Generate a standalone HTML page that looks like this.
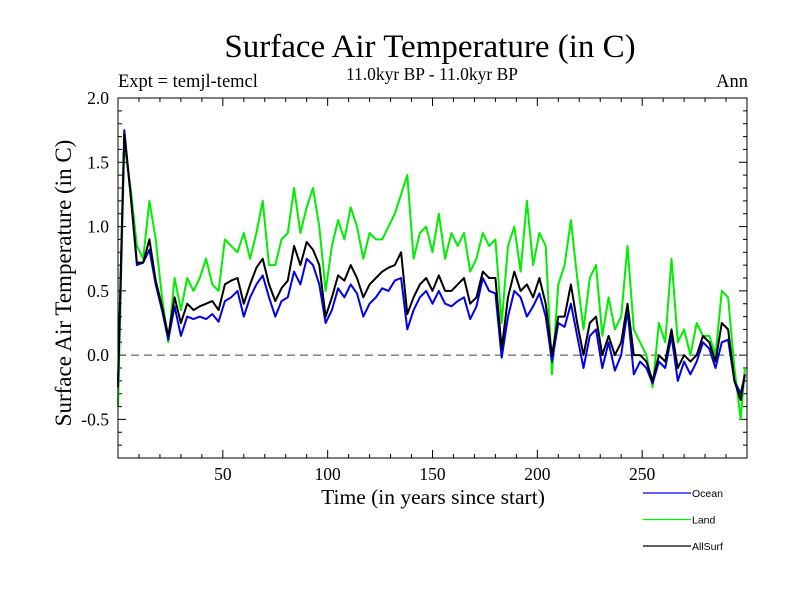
<!DOCTYPE html>
<html><head><meta charset="utf-8"><style>
body{margin:0;background:#fff;width:800px;height:600px;overflow:hidden}
svg{display:block}
text{font-family:"Liberation Serif",serif;fill:#000}
</style></head><body>
<svg id="chart" width="800" height="600" viewBox="0 0 800 600">
<text x="430" y="57" font-size="33" text-anchor="middle">Surface Air Temperature (in C)</text>
<text x="432" y="80" font-size="17.5" text-anchor="middle">11.0kyr BP - 11.0kyr BP</text>
<text x="118" y="87" font-size="18.5">Expt = temjl-temcl</text>
<text x="748" y="87" font-size="18.5" text-anchor="end">Ann</text>
<text x="433" y="504" font-size="21.5" text-anchor="middle">Time (in years since start)</text>
<text transform="translate(71,283) rotate(-90)" font-size="23" text-anchor="middle">Surface Air Temperature (in C)</text>
<g id="ticks"></g><g id="series"></g>
<rect x="118" y="98" width="629" height="360" fill="none" stroke="#000" stroke-width="1"/>
<g id="legend"></g>
</svg>
<script>
const years=[0,3,6,9,12,15,18,21,24,27,30,33,36,39,42,45,48,51,54,57,60,63,66,69,72,75,78,81,84,87,90,93,96,99,102,105,108,111,114,117,120,123,126,129,132,135,138,141,144,147,150,153,156,159,162,165,168,171,174,177,180,183,186,189,192,195,198,201,204,207,210,213,216,219,222,225,228,231,234,237,240,243,246,249,252,255,258,261,264,267,270,273,276,279,282,285,288,291,294,297,299];
const ocean=[-0.2,1.75,1.25,0.7,0.72,0.82,0.55,0.35,0.12,0.38,0.15,0.3,0.28,0.3,0.28,0.32,0.26,0.42,0.45,0.5,0.3,0.45,0.55,0.62,0.45,0.3,0.42,0.45,0.65,0.55,0.75,0.7,0.55,0.25,0.35,0.52,0.45,0.55,0.48,0.3,0.4,0.45,0.52,0.5,0.58,0.6,0.2,0.35,0.45,0.5,0.4,0.5,0.4,0.38,0.42,0.45,0.28,0.38,0.6,0.5,0.48,-0.02,0.3,0.5,0.45,0.3,0.38,0.48,0.3,-0.05,0.25,0.22,0.4,0.15,-0.1,0.15,0.2,-0.1,0.1,-0.12,0.0,0.35,-0.15,-0.05,-0.1,-0.22,-0.05,-0.1,0.15,-0.2,-0.05,-0.15,-0.05,0.1,0.05,-0.1,0.1,0.12,-0.2,-0.3,-0.15];
const land=[-0.4,1.65,1.3,0.85,0.75,1.2,0.9,0.45,0.1,0.6,0.35,0.6,0.5,0.6,0.75,0.55,0.5,0.9,0.85,0.8,0.95,0.75,0.95,1.2,0.7,0.7,0.9,0.95,1.3,0.95,1.15,1.3,1.0,0.5,0.85,1.05,0.9,1.15,1.0,0.75,0.95,0.9,0.9,1.0,1.1,1.25,1.4,0.75,0.95,1.0,0.8,1.1,0.75,0.95,0.85,0.95,0.65,0.75,0.95,0.85,0.9,0.25,0.85,1.0,0.65,1.2,0.7,0.95,0.85,-0.15,0.55,0.7,1.05,0.6,0.2,0.6,0.7,0.15,0.45,0.2,0.3,0.85,0.2,0.1,0.0,-0.25,0.25,0.1,0.75,0.1,0.2,0.0,0.25,0.15,0.15,0.0,0.5,0.45,-0.1,-0.5,-0.1];
const allsurf=[-0.25,1.72,1.25,0.72,0.72,0.9,0.58,0.38,0.15,0.45,0.25,0.4,0.35,0.38,0.4,0.42,0.35,0.55,0.58,0.6,0.4,0.55,0.68,0.75,0.55,0.42,0.52,0.58,0.85,0.7,0.88,0.82,0.7,0.3,0.45,0.62,0.58,0.7,0.6,0.45,0.55,0.6,0.65,0.68,0.7,0.8,0.32,0.45,0.55,0.6,0.5,0.62,0.5,0.5,0.55,0.6,0.4,0.45,0.65,0.6,0.6,0.05,0.45,0.65,0.5,0.55,0.45,0.6,0.4,0.0,0.3,0.3,0.55,0.25,0.0,0.25,0.3,0.0,0.15,0.0,0.1,0.4,0.0,0.0,-0.05,-0.2,0.0,-0.05,0.2,-0.1,0.0,-0.05,0.0,0.15,0.1,-0.05,0.25,0.2,-0.2,-0.35,-0.15];
const xTickLabels=[50,100,150,200,250];
const yTickLabels=[-0.5,0.0,0.5,1.0,1.5,2.0];
const NS="http://www.w3.org/2000/svg";
const X0=118,X1=747,Y0=458,Y1=98,xmin=0,xmax=300,ymin=-0.8,ymax=2.0;
const sx=v=>X0+(v-xmin)/(xmax-xmin)*(X1-X0);
const sy=v=>Y0-(v-ymin)/(ymax-ymin)*(Y0-Y1);
function mk(tag,attrs,parent){const e=document.createElementNS(NS,tag);for(const k in attrs)e.setAttribute(k,attrs[k]);parent.appendChild(e);return e;}
const tg=document.getElementById('ticks');
for(let v=10;v<300;v+=10){const x=sx(v),L=v%50===0?8:4;
 const t=mk('path',{d:`M${x},${Y0}v${-L}M${x},${Y1}v${L}`,stroke:'#000','stroke-width':1},tg);
 
 }
for(let i=-7;i<20;i++){const v=i/10,y=sy(v),L=i%5===0?8:4;
 const t=mk('path',{d:`M${X0},${y}h${L}M${X1},${y}h${-L}`,stroke:'#000','stroke-width':1},tg);
 
 }
xTickLabels.forEach(v=>{const t=mk('text',{x:sx(v),y:Y0+22,'font-size':17.5,'text-anchor':'middle'},tg);t.textContent=v;
 
 });
yTickLabels.forEach(v=>{const t=mk('text',{x:X0-9,y:sy(v)+6,'font-size':17.5,'text-anchor':'end'},tg);t.textContent=v.toFixed(1);
 
 });
const z=mk('line',{x1:X0,x2:X1,y1:sy(0),y2:sy(0),stroke:'#444','stroke-width':1,'stroke-dasharray':'8,5'},tg);


const sg=document.getElementById('series');
function line(vals,color,name){const d=vals.map((v,i)=>(i?'L':'M')+sx(years[i]).toFixed(1)+','+sy(v).toFixed(1)).join('');
 const p=mk('path',{d:d,fill:'none',stroke:color,'stroke-width':2,'stroke-linejoin':'round'},sg);
 
 }
line(land,'#00ee00','land-line');
line(ocean,'#0000ee','ocean-line');
line(allsurf,'#000000','allsurf-line');
const lg=document.getElementById('legend');
[['Ocean','#0000ee',493,'legend-ocean'],['Land','#00ee00',519.5,'legend-land'],['AllSurf','#000000',546,'legend-allsurf']].forEach(([n,c,y,dn])=>{
 const g=mk('g',{},lg);
 
 
 mk('line',{x1:643,x2:691,y1:y,y2:y,stroke:c,'stroke-width':1.2},g);
 const t=mk('text',{x:692,y:y+4,'font-size':10.5,style:'font-family:"Liberation Sans",sans-serif'},g);t.textContent=n;});
</script>
</body></html>
